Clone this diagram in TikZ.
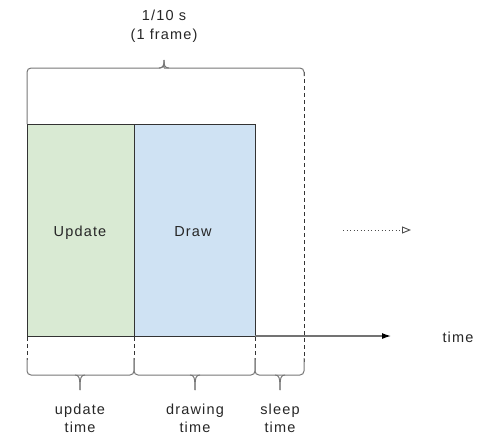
\documentclass[tikz,border=0pt]{standalone}
\usepackage{fontspec}
\setmainfont{Liberation Sans}[LetterSpace=8]
\usetikzlibrary{arrows.meta}
\definecolor{updfill}{HTML}{D9EAD3}
\definecolor{drwfill}{HTML}{CFE2F3}
\definecolor{edge}{HTML}{333333}
\definecolor{brc}{HTML}{777777}
\tikzset{
  phase/.style={draw=edge, line width=1.1pt, inner sep=0pt},
  lbl/.style={font=\fontsize{14.5}{18}\selectfont, text=black!85, align=center, inner sep=0pt},
  brace/.style={draw=brc, line width=1pt, rounded corners=4pt},
  guide/.style={draw=black!80, line width=0.8pt, dash pattern=on 4pt off 3pt},
}
\begin{document}
\begin{tikzpicture}[x=1pt,y=-1pt]
\useasboundingbox (0,0) rectangle (485,437);
% phases
\node[phase, fill=updfill, minimum width=107pt, minimum height=212pt, anchor=north west] (upd) at (27,124) {};
\node[phase, fill=drwfill, minimum width=121pt, minimum height=212pt, anchor=north west] (drw) at (134,124) {};
\node[lbl] (updl) at (80,233) {Update};
\node[lbl] (drwl) at (193,232) {Draw};
% time axis
\coordinate (ax0) at (255,336);
\coordinate (ax1) at (391,336);
\draw[draw=black!55, line width=1.2pt, -{Latex[length=9pt,width=6pt,black]}] (ax0) -- (ax1);
\node[lbl] (timel) at (458,337) {time};
% frame end guide
\coordinate (fe0) at (304,72);
\coordinate (fe1) at (304,362);
\draw[guide] (fe0) -- (fe1);
% top brace
\draw[brace] (27,124) -- (27,68) -- (164,68) -- (164,68);
\draw[brace] (164,68) -- (304,68) -- (304,76);
\draw[draw=brc, line width=1pt] (159,68) .. controls (163,68) and (164,66) .. (164,60);
\draw[draw=brc, line width=1pt] (169,68) .. controls (165,68) and (164,66) .. (164,60);
\node[lbl] (tt1) at (164,15) {1/10 s};
\node[lbl] (tt2) at (164,36) {(1 frame)};
% dotted continuation arrow
\coordinate (d0) at (343,230);
\coordinate (d1) at (411,230);
\draw[draw=black!70, line width=0.9pt, dash pattern=on 1pt off 2.5pt, -{Triangle[open,length=9pt,width=7pt]}] (d0) -- (d1);
% bottom guides
\foreach \x/\n in {27/g1,134/g2,255/g3}{
  \draw[guide] (\x,337) -- (\x,360);
}
% bottom braces
\foreach \a/\b/\m in {27/134/80, 134/255/195, 255/304/280}{
  \draw[brace] (\a,358) -- (\a,375) -- (\b,375) -- (\b,358);
  \draw[draw=brc, line width=1pt] (\m-5,375) .. controls (\m-1,375) and (\m,377) .. (\m,390);
  \draw[draw=brc, line width=1pt] (\m+5,375) .. controls (\m+1,375) and (\m,377) .. (\m,390);
}
\node[lbl] (b1) at (80,418) {update\\time};
\node[lbl] (b2) at (195,418) {drawing\\time};
\node[lbl] (b3) at (280,418) {sleep\\time};
\end{tikzpicture}
\end{document}
